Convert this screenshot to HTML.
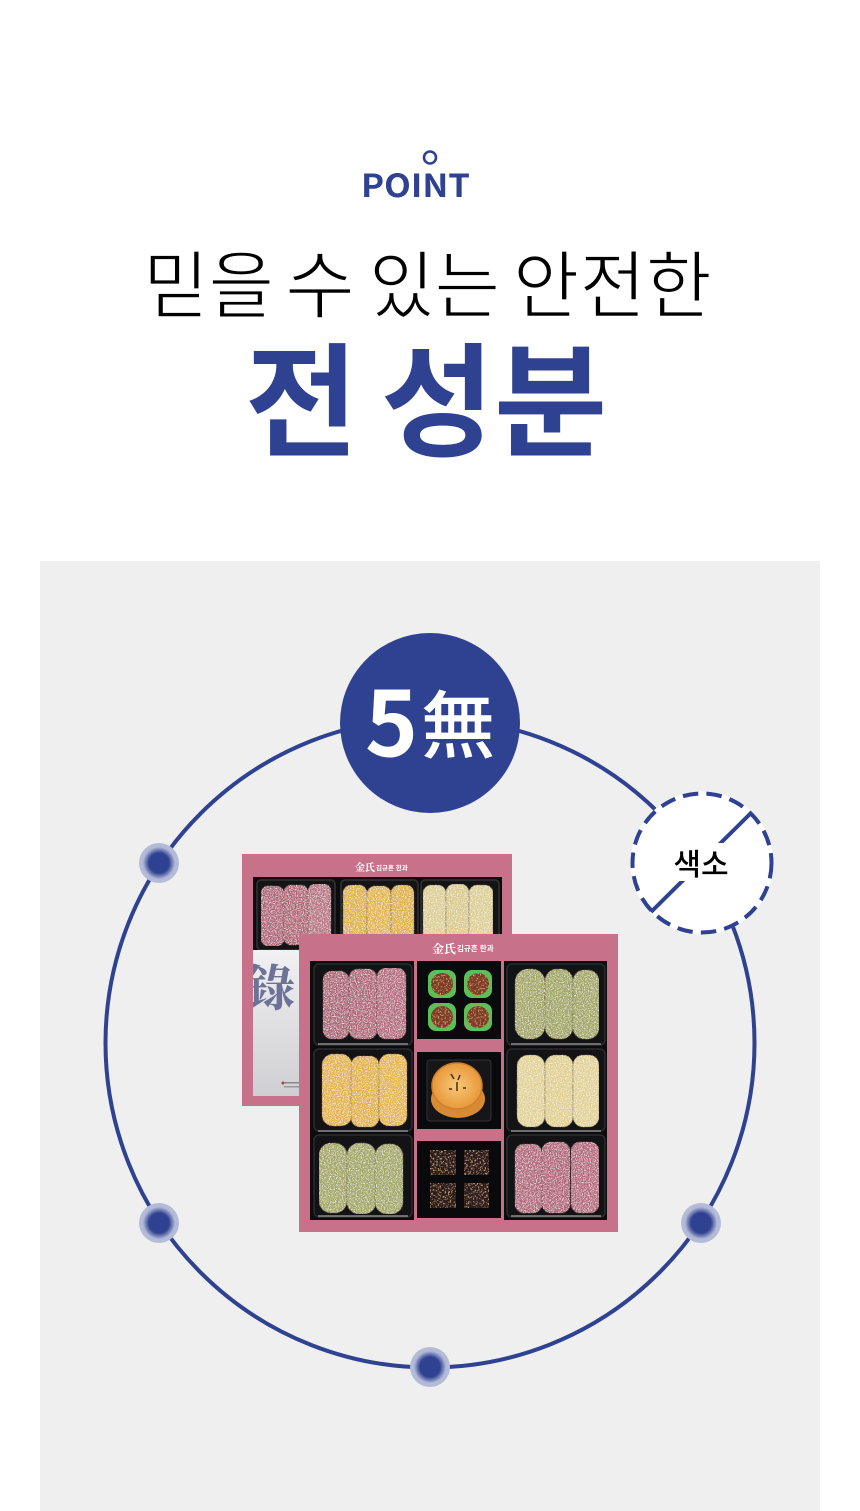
<!DOCTYPE html>
<html lang="ko">
<head>
<meta charset="utf-8">
<title>POINT</title>
<style>
html,body{margin:0;padding:0;background:#fff;}
body{width:860px;height:1511px;overflow:hidden;}
svg{display:block;}
text{font-family:"Noto Sans CJK KR","Liberation Sans",sans-serif;}
</style>
</head>
<body>
<svg width="860" height="1511" viewBox="0 0 860 1511" xmlns="http://www.w3.org/2000/svg">
<defs>
<filter id="sp" x="0" y="0" width="100%" height="100%">
<feTurbulence type="fractalNoise" baseFrequency="0.85" numOctaves="2" seed="4" result="n"/>
<feColorMatrix in="n" type="matrix" values="0 0 0 0 1  0 0 0 0 1  0 0 0 0 0.92  2.6 0 0 0 -1.2" result="w"/>
<feComposite in="w" in2="SourceAlpha" operator="in" result="ws"/>
<feMerge><feMergeNode in="SourceGraphic"/><feMergeNode in="ws"/></feMerge>
</filter>
<filter id="sp2" x="0" y="0" width="100%" height="100%">
<feTurbulence type="fractalNoise" baseFrequency="0.6" numOctaves="2" seed="9" result="n"/>
<feColorMatrix in="n" type="matrix" values="0 0 0 0 0.85  0 0 0 0 0.5  0 0 0 0 0.28  3.5 0 0 0 -1.9" result="w"/>
<feComposite in="w" in2="SourceAlpha" operator="in" result="ws"/>
<feMerge><feMergeNode in="SourceGraphic"/><feMergeNode in="ws"/></feMerge>
</filter>
<radialGradient id="dot"><stop offset="0.5" stop-color="#2f4191"/><stop offset="0.76" stop-color="#9ea7cd"/><stop offset="0.8" stop-color="#b2b9d7"/><stop offset="1" stop-color="#b6bdd9"/></radialGradient>
<linearGradient id="panel" x1="0" y1="0" x2="0" y2="1"><stop offset="0" stop-color="#f1f1f3"/><stop offset="1" stop-color="#cfcfd3"/></linearGradient>
<radialGradient id="orange"><stop offset="0" stop-color="#f6c878"/><stop offset="1" stop-color="#e9983a"/></radialGradient>
<clipPath id="backPanel"><rect x="253" y="950" width="60" height="146"/></clipPath>
</defs>

<rect width="860" height="1511" fill="#fff"/>
<rect x="40" y="561" width="780" height="950" fill="#efefef"/>

<!-- header -->
<circle cx="430" cy="157.500" r="6" fill="none" stroke="#2f4191" stroke-width="2.600"/>
<text x="415.500" y="197" text-anchor="middle" font-size="32" font-weight="700" fill="#2f4191" textLength="109" lengthAdjust="spacingAndGlyphs">POINT</text>
<g font-size="74" fill="#000" stroke="#fff" stroke-width="1.700">
<text x="143" y="312" textLength="131" lengthAdjust="spacingAndGlyphs">믿을</text>
<text x="285" y="312" textLength="70" lengthAdjust="spacingAndGlyphs">수</text>
<text x="369" y="312" textLength="131" lengthAdjust="spacingAndGlyphs">있는</text>
<text x="513" y="312" textLength="199" lengthAdjust="spacingAndGlyphs">안전한</text>
</g>
<text x="245" y="446" font-size="123" font-weight="700" fill="#2f4191">전</text>
<text x="381" y="446" font-size="123" font-weight="700" fill="#2f4191">성분</text>

<!-- big ring -->
<circle cx="430" cy="1043" r="324.500" fill="none" stroke="#2f4191" stroke-width="4"/>

<!-- back box -->
<rect x="242" y="854" width="270" height="252" fill="#c8718b"/>
<rect x="253" y="877" width="249" height="73" fill="#0c0c0e"/>
<g fill="#141416" stroke="#333" stroke-width="1.500">
<rect x="257" y="880" width="78" height="70" rx="4"/>
<rect x="341" y="880" width="77" height="70" rx="4"/>
<rect x="421" y="880" width="78" height="70" rx="4"/>
</g>
<g filter="url(#sp)" stroke="#5a3c30" stroke-opacity=".35">
<rect x="261" y="886" width="23" height="60" rx="7" fill="#ad5f77"/>
<rect x="284" y="885" width="24" height="60" rx="7" fill="#af6076"/>
<rect x="308" y="884" width="23" height="60" rx="7" fill="#b56f82"/>
<rect x="343" y="885" width="24" height="60" rx="8" fill="#dfb03f"/>
<rect x="367" y="886" width="24" height="60" rx="8" fill="#e2b448"/>
<rect x="391" y="885" width="23" height="60" rx="8" fill="#dfb03f"/>
<rect x="423" y="885" width="23" height="60" rx="8" fill="#dccd95"/>
<rect x="446" y="884" width="23" height="60" rx="8" fill="#d9c98e"/>
<rect x="469" y="885" width="24" height="60" rx="8" fill="#dccd95"/>
</g>
<rect x="253" y="950" width="60" height="146" fill="url(#panel)"/>
<g clip-path="url(#backPanel)"><text x="245" y="1006" font-size="50" font-weight="700" fill="#6c7397" style="font-family:'Noto Serif CJK SC',serif">錄</text></g>
<circle cx="283" cy="1083" r="1.500" fill="#c33"/>
<rect x="284" y="1082" width="15" height="1.500" fill="#888"/>
<rect x="284" y="1086" width="15" height="1.500" fill="#999"/>
<text x="355" y="871" font-size="10" font-weight="700" fill="#fff" style="font-family:'Noto Serif CJK SC',serif">金氏</text>
<text x="376" y="870" font-size="6.500" font-weight="700" fill="#fff">김규흔 한과</text>

<!-- front box -->
<rect x="299" y="934" width="319" height="298" fill="#c8718b"/>
<text x="432" y="953" font-size="12" font-weight="700" fill="#fff" style="font-family:'Noto Serif CJK SC',serif">金氏</text>
<text x="457" y="951" font-size="7.500" font-weight="700" fill="#fff">김규흔 한과</text>
<rect x="310" y="961" width="104" height="259" fill="#0c0c0e"/>
<rect x="504" y="961" width="103" height="259" fill="#0c0c0e"/>
<g fill="#131315" stroke="#2c2c2f" stroke-width="1.500">
<rect x="314" y="964" width="98" height="81" rx="5"/>
<rect x="314" y="1049" width="98" height="82" rx="5"/>
<rect x="314" y="1135" width="98" height="82" rx="5"/>
<rect x="507" y="964" width="98" height="81" rx="5"/>
<rect x="507" y="1049" width="98" height="82" rx="5"/>
<rect x="507" y="1135" width="98" height="82" rx="5"/>
</g>
<g stroke="#8a8a8a" stroke-width="1.500">
<path d="M318 1044H408M318 1131H408M318 1216H408M511 1044H601M511 1131H601M511 1216H601"/>
</g>
<g filter="url(#sp)" stroke="#5a3c30" stroke-opacity=".35">
<rect x="323" y="971" width="26" height="68" rx="9" fill="#aa5e76"/>
<rect x="349" y="969" width="28" height="70" rx="9" fill="#ad5f76"/>
<rect x="377" y="968" width="29" height="71" rx="9" fill="#b2657b"/>
<rect x="322" y="1054" width="30" height="72" rx="11" fill="#e4b144"/>
<rect x="351" y="1056" width="28" height="71" rx="9" fill="#e2af42"/>
<rect x="379" y="1054" width="28" height="72" rx="10" fill="#e4b346"/>
<rect x="319" y="1143" width="28" height="70" rx="12" fill="#a0a564"/>
<rect x="347" y="1143" width="29" height="71" rx="12" fill="#9fa564"/>
<rect x="375" y="1144" width="28" height="70" rx="12" fill="#a0a564"/>
<rect x="515" y="969" width="30" height="70" rx="13" fill="#a0a462"/>
<rect x="545" y="969" width="28" height="70" rx="12" fill="#9ea360"/>
<rect x="573" y="970" width="26" height="69" rx="11" fill="#a0a462"/>
<rect x="517" y="1055" width="28" height="72" rx="11" fill="#e1d095"/>
<rect x="545" y="1055" width="28" height="72" rx="10" fill="#e0ce8e"/>
<rect x="573" y="1055" width="26" height="72" rx="10" fill="#e1d095"/>
<rect x="515" y="1144" width="27" height="69" rx="9" fill="#b0647a"/>
<rect x="542" y="1142" width="28" height="71" rx="9" fill="#b05f78"/>
<rect x="571" y="1142" width="28" height="71" rx="9" fill="#b3647b"/>
</g>

<!-- center column -->
<rect x="417" y="961" width="84" height="78" fill="#0a0a0c"/>
<rect x="417" y="1052" width="84" height="77" fill="#0a0a0c"/>
<rect x="417" y="1141" width="84" height="77" fill="#0a0a0c"/>
<g fill="#5cbf58">
<rect x="428" y="970" width="28" height="28" rx="8"/>
<rect x="464" y="970" width="28" height="28" rx="8"/>
<rect x="428" y="1003" width="28" height="28" rx="8"/>
<rect x="464" y="1003" width="28" height="28" rx="8"/>
</g>
<g fill="#7d3a20" filter="url(#sp2)">
<circle cx="442" cy="984" r="11"/><circle cx="478" cy="984" r="11"/>
<circle cx="442" cy="1017" r="11"/><circle cx="478" cy="1017" r="11"/>
</g>
<rect x="427" y="1060" width="64" height="61" rx="3" fill="#161618" stroke="#333" stroke-width="1"/>
<ellipse cx="458" cy="1099" rx="27" ry="19" fill="#d98a35"/>
<ellipse cx="457" cy="1086" rx="25" ry="23" fill="url(#orange)" stroke="#cf7f2a" stroke-width="1.500"/>
<g stroke="#4a2a18" stroke-width="1.500"><path d="M457 1082v9M451 1074l3 5M460 1075l-2 5M452 1089h-3M463 1088h3"/></g>
<g fill="#2c1c1e" filter="url(#sp2)">
<rect x="430" y="1150" width="26" height="25"/><rect x="464" y="1150" width="25" height="25"/>
<rect x="430" y="1183" width="26" height="25"/><rect x="464" y="1183" width="25" height="25"/>
</g>

<!-- 5 badge -->
<circle cx="430" cy="723" r="90" fill="#2f4191"/>
<text x="391.500" y="756" text-anchor="middle" font-size="90" font-weight="700" fill="#fff">5</text>
<text x="458" y="752" text-anchor="middle" font-size="74" font-weight="500" fill="#fff">無</text>

<!-- dots -->
<circle cx="159" cy="863" r="20" fill="url(#dot)"/>
<circle cx="159" cy="1223" r="20" fill="url(#dot)"/>
<circle cx="430" cy="1367" r="20" fill="url(#dot)"/>
<circle cx="701" cy="1223" r="20" fill="url(#dot)"/>

<!-- 색소 -->
<circle cx="702" cy="863" r="71.500" fill="#fff"/>
<circle cx="702" cy="863" r="69.500" fill="none" stroke="#2f4191" stroke-width="4" stroke-dasharray="15.500 8.200"/>
<line x1="651" y1="912" x2="751" y2="813" stroke="#2f4191" stroke-width="4"/>
<rect x="668" y="843" width="68" height="38" fill="#fff"/>
<text x="701" y="875" text-anchor="middle" font-size="30" font-weight="500" fill="#000">색소</text>
</svg>
</body>
</html>
